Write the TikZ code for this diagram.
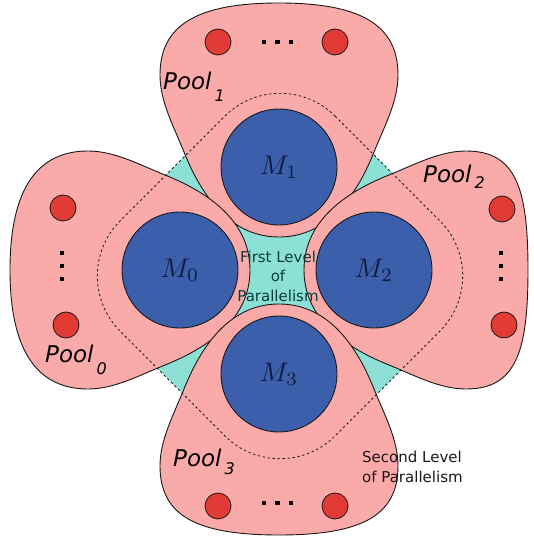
\documentclass[tikz,border=0pt]{standalone}
\usepackage{fontspec}
\setsansfont{DejaVu Sans}
\definecolor{poolFill}{RGB}{251,170,170}
\definecolor{poolLine}{RGB}{25,25,25}
\definecolor{levelFill}{RGB}{141,224,214}
\definecolor{levelText}{RGB}{8,62,62}
\definecolor{machineFill}{RGB}{60,95,172}
\definecolor{machineText}{RGB}{16,26,62}
\definecolor{workerFill}{RGB}{226,58,52}
\begin{document}
\begin{tikzpicture}[x=1pt,y=1pt,
      pool/.style={fill=poolFill, draw=poolLine, line width=.9pt},
      level/.style={fill=levelFill},
      boundary/.style={draw=poolLine, line width=.8pt,
        dash pattern=on 2.4pt off 2.6pt},
      machine/.style={circle, fill=machineFill, draw=poolLine,
        line width=.9pt, minimum size=116pt, inner sep=0pt,
        text=machineText},
      worker/.style={fill=workerFill, draw=poolLine, line width=.8pt},
      more/.style={fill=black},
      poolname/.style={font=\fontsize{23}{23}\selectfont\sffamily\itshape,
        anchor=base west, inner sep=0pt},
      note/.style={font=\fontsize{15}{19.5}\selectfont\sffamily,
        inner sep=0pt}]
      \useasboundingbox (0,0) rectangle (534,542);

      % first level: the shared region
      \path[level, rounded corners=78pt]
        (280,481) -- (495,266) -- (280,51) -- (65,266) -- cycle;

      % the four pools, one shape turned round the centre
      \foreach \px/\py/\ang/\len in {279/375/0/164, 180/272/90/170,
          374/272/-90/154, 279/168/180/161}{
        \begin{scope}[shift={(\px,\py)}, rotate=\ang]
          \path[pool] (0,-70) .. controls (45,-70) and (75,-35) .. (95,15)
            .. controls (106,42) and (119,66) .. (119,92)
            .. controls (119,142) and (82,\len) .. (0,\len)
            .. controls (-82,\len) and (-119,142) .. (-119,92)
            .. controls (-119,66) and (-106,42) .. (-95,15)
            .. controls (-75,-35) and (-45,-70) .. cycle;
        \end{scope}}

      % second level
      \path[boundary, rounded corners=78pt]
        (280,481) -- (495,266) -- (280,51) -- (65,266) -- cycle;

      \node[machine] (m1) at (279,375) {\scalebox{2.7}{$M_1$}};
      \node[machine] (m0) at (180,272) {\scalebox{2.7}{$M_0$}};
      \node[machine] (m2) at (374,272) {\scalebox{2.7}{$M_2$}};
      \node[machine] (m3) at (279,168) {\scalebox{2.7}{$M_3$}};

      \foreach \wx/\wy in {218/500, 335/500, 63/334, 66/217,
          502/333, 504/217, 218/36, 335/36}{
        \path[worker] (\wx,\wy) circle (13pt);}
      \foreach \i in {0,1,2}{
        \fill[more] ({264+13.5*\i},500) +(-2.2,-2.2) rectangle +(2.2,2.2);
        \fill[more] ({264+13.5*\i},39) +(-2.2,-2.2) rectangle +(2.2,2.2);
        \fill[more] (62,{263+13*\i}) +(-2.2,-2.2) rectangle +(2.2,2.2);
        \fill[more] (501,{263+13*\i}) +(-2.2,-2.2) rectangle +(2.2,2.2);}

      \node[poolname] (p1) at (163,452)
        {Pool\kern3pt\raisebox{-12pt}{\fontsize{16}{16}\selectfont 1}};
      \node[poolname] (p0) at (45,179)
        {Pool\kern3pt\raisebox{-12pt}{\fontsize{16}{16}\selectfont 0}};
      \node[poolname] (p2) at (423,359)
        {Pool\kern3pt\raisebox{-6pt}{\fontsize{16}{16}\selectfont 2}};
      \node[poolname] (p3) at (173,75)
        {Pool\kern3pt\raisebox{-8pt}{\fontsize{16}{16}\selectfont 3}};

      \node[note, text=levelText, align=center] (first) at (278,266)
        {First Level\\of\\Parallelism};
      \node[note, text=poolLine, align=left, anchor=west] (second)
        at (362,75) {Second Level\\of Parallelism};
    \end{tikzpicture}
\end{document}
